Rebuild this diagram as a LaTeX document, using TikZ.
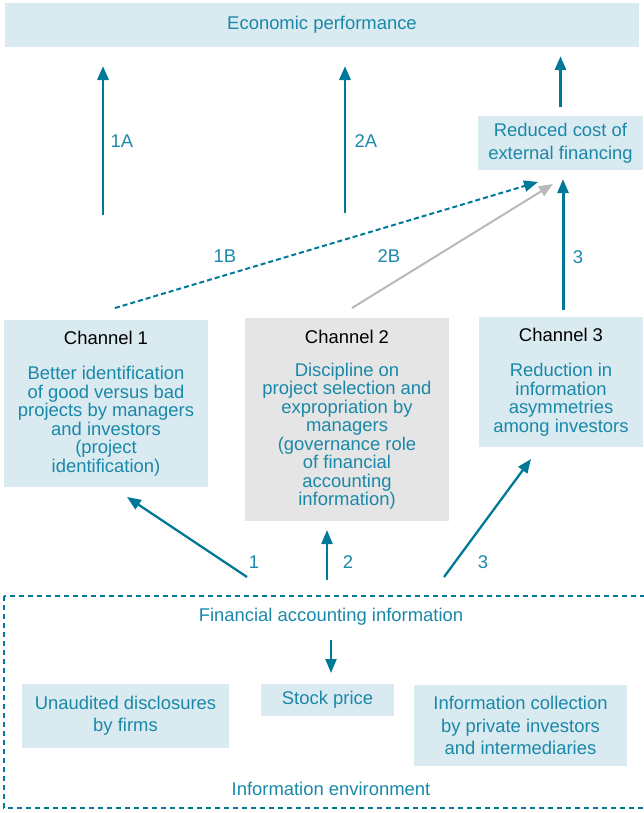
\documentclass[tikz,border=0pt]{standalone}
\usepackage{fontspec}
\setmainfont{Liberation Sans}
\usetikzlibrary{arrows.meta}
\definecolor{blue1}{RGB}{218,234,241}
\definecolor{grey1}{RGB}{229,229,229}
\definecolor{grey2}{RGB}{185,185,185}
\definecolor{teal1}{RGB}{26,136,168}
\definecolor{teal2}{RGB}{0,121,153}

\begin{document}
\begin{tikzpicture}[x=1bp, y=-1bp, font=\fontsize{18.5}{18.5}\selectfont,
  box/.style={fill=blue1, text=teal1, inner sep=0pt, align=center},
  arr/.style={draw=teal2, line width=3pt, -{Triangle[length=14bp,width=11bp]}},
  thin arr/.style={arr, line width=2.3pt},
  lab/.style={text=teal1}]
  \useasboundingbox (0,0) rectangle (644,813);

  \node[box, minimum width=636, minimum height=44] (econ) at (322,25) {Economic performance};
  \node[box, minimum width=165, minimum height=54, font=\fontsize{18.5}{23}\selectfont] (red) at (560.5,143) {Reduced cost of\\external financing};

  \node[box, minimum width=204, minimum height=167] (ch1) at (106,403.5)
    {{\color{black}Channel 1}\\[17bp]Better identification\\of good versus bad\\projects by managers\\and investors\\(project\\identification)};
  \node[box, fill=grey1, minimum width=204, minimum height=203] (ch2) at (347,419.5)
    {{\color{black}Channel 2}\\[15bp]Discipline on\\project selection and\\expropriation by\\managers\\(governance role\\of financial\\accounting\\information)};
  \node[box, minimum width=164, minimum height=130] (ch3) at (561,382)
    {{\color{black}Channel 3}\\[17bp]Reduction in\\information\\asymmetries\\among investors};

  \node[lab] (finfo) at (331,617) {Financial accounting information};
  \node[box, minimum width=207, minimum height=64, font=\fontsize{18.5}{22.5}\selectfont] (unaud) at (125.5,716) {Unaudited disclosures\\by firms};
  \node[box, minimum width=133, minimum height=32] (stock) at (327.5,700) {Stock price};
  \node[box, minimum width=213, minimum height=81, font=\fontsize{18.5}{22.5}\selectfont] (icoll) at (520.5,725.5) {Information collection\\by private investors\\and intermediaries};
  \node[lab] (ienv) at (331,789) {Information environment};

  \draw[teal2, line width=2pt, dash pattern=on 5bp off 4bp] (4,596) rectangle (648,808);

  \coordinate (a1s) at (103,215); \coordinate (a1e) at (103,66);
  \coordinate (a2s) at (345,213); \coordinate (a2e) at (345,66);
  \coordinate (b1s) at (115,308); \coordinate (b1e) at (538,182);
  \coordinate (b2s) at (352,308); \coordinate (b2e) at (553,184);
  \coordinate (c1s) at (247,577); \coordinate (c1e) at (127,497);
  \coordinate (c2s) at (327,580); \coordinate (c2e) at (327,530);
  \coordinate (c3s) at (444,577); \coordinate (c3e) at (531,459);
  \coordinate (fs) at (331,640); \coordinate (fe) at (331,673);

  \foreach \from/\to in {a1s/a1e, a2s/a2e}
    \draw[arr] (\from) -- (\to);
  \draw[arr, shorten <=9bp, shorten >=9bp] (red.north) -- (red.north |- econ.south);
  \draw[arr, shorten <=7bp, shorten >=9bp] (ch3.north -| 563,0) -- (red.south -| 563,0);
  \draw[thin arr, line width=2pt, dash pattern=on 5bp off 3bp] (b1s) -- (b1e);
  \draw[thin arr, draw=grey2, line width=2pt] (b2s) -- (b2e);
  \foreach \from/\to in {c1s/c1e, c2s/c2e, c3s/c3e, fs/fe}
    \draw[thin arr] (\from) -- (\to);

  \node[lab] (l1a) at (122,141) {1A};
  \node[lab] (l2a) at (366,141) {2A};
  \node[lab] (l3) at (578,257) {3};
  \node[lab] (l1b) at (225,256) {1B};
  \node[lab] (l2b) at (389,256) {2B};
  \node[lab] (m1) at (254,562) {1};
  \node[lab] (m2) at (348,562) {2};
  \node[lab] (m3) at (483,562) {3};
\end{tikzpicture}
\end{document}
